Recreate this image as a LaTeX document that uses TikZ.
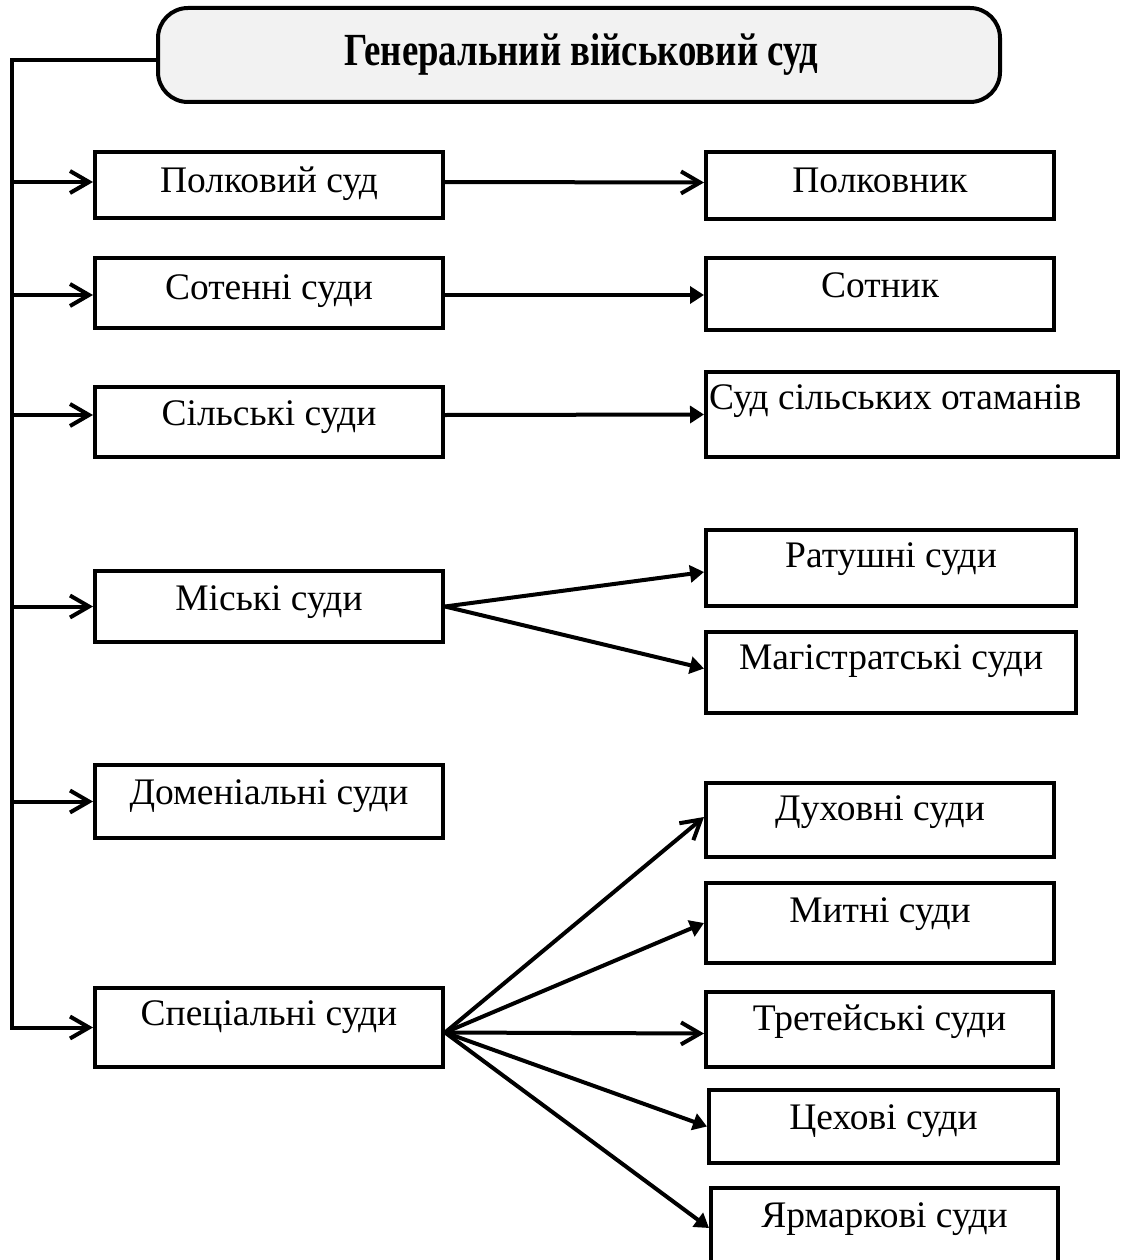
\documentclass[tikz,border=0pt]{standalone}
\usepackage{graphicx}
\usepackage{fontspec}
\setmainfont{Liberation Serif}
\usetikzlibrary{arrows.meta,calc}
\definecolor{genfill}{RGB}{242,242,242}
\tikzset{
  box/.style={draw=black,line width=4pt,rectangle,inner sep=0pt,fill=white},
  lbl/.style={inner sep=0pt,font=\fontsize{37.5}{42}\selectfont},
  conn/.style={draw=black,line width=4pt},
  openarr/.style={conn,-{Straight Barb[length=19pt,width=22pt,line width=4pt]}},
  fillarr/.style={conn,-{Triangle[length=14pt,width=17pt]}},
}
\newcommand\courtbox[7]{%
  \node[box,minimum width={(#4-#2)*1pt},minimum height={(#5-#3)*1pt}] (#1) at ({(#2+#4)/2},{(#3+#5)/2}) {};
  \node[lbl,anchor=base] (#1t) at ({(#2+#4)/2},{#6+12}) {#7};}
\begin{document}
\begin{tikzpicture}[x=1pt,y=-1pt]
\clip (0,0) rectangle (1121,1260);
\fill[white] (0,0) rectangle (1121,1260);
% top box
\node[draw=black,line width=4pt,rounded corners=30pt,fill=genfill,minimum width=842pt,minimum height=94pt,inner sep=0pt] (gen) at (579,55) {};
\node[inner sep=0pt,anchor=base,font=\fontsize{46}{50}\selectfont\bfseries] (gent) at (581,66) {\scalebox{0.8}[1]{Генеральний військовий суд}};
% left column
\courtbox{pol}{95}{152}{443}{218}{181}{Полковий суд}
\courtbox{sot}{95}{258}{443}{328}{287}{Сотенні суди}
\courtbox{sil}{95}{387}{443}{457}{413}{Сільські суди}
\courtbox{mis}{95}{571}{443}{642}{598}{Міські суди}
\courtbox{dom}{95}{765}{443}{838}{792}{Доменіальні суди}
\courtbox{spec}{95}{988}{443}{1067}{1013}{Спеціальні суди}
% right column
\courtbox{polk}{706}{152}{1054}{219}{181}{Полковник}
\courtbox{sotn}{706}{258}{1054}{330}{285}{Сотник}
\node[box,minimum width=412pt,minimum height=85pt] (sud) at (912,414.5) {};
\node[lbl,anchor=base west] (sudt) at (709,409) {Суд сільських отаманів};
\courtbox{rat}{706}{530}{1076}{606}{555}{Ратушні суди}
\courtbox{mag}{706}{632}{1076}{713}{657}{Магістратські суди}
\courtbox{duh}{706}{783}{1054}{857}{808}{Духовні суди}
\courtbox{myt}{706}{883}{1054}{963}{910}{Митні суди}
\courtbox{tret}{706}{992}{1053}{1067}{1018}{Третейські суди}
\courtbox{tsekh}{709}{1090}{1058}{1163}{1117}{Цехові суди}
\courtbox{yarm}{711}{1188}{1058}{1268}{1215}{Ярмаркові суди}
% bus
\coordinate (busTop) at (12,60);
\coordinate (bus) at (12,0);
\draw[openarr,line join=miter] (gen.west |- busTop) -- (busTop) -- (bus |- spec.west) -- (spec.west);
\draw[openarr] (bus |- {$(pol.west)+(0,-3)$}) -- ($(pol.west)+(0,-3)$);
\draw[openarr] (bus |- {$(sot.west)+(0,2)$}) -- ($(sot.west)+(0,2)$);
\draw[openarr] (bus |- {$(sil.west)+(0,-7)$}) -- ($(sil.west)+(0,-7)$);
\draw[openarr] (bus |- mis.west) -- (mis.west);
\draw[openarr] (bus |- dom.west) -- (dom.west);
% right connectors
\draw[openarr] ($(pol.east)+(0,-3)$) -- ($(polk.west)+(0,-3)$);
\draw[fillarr] ($(sot.east)+(0,2)$) -- ($(sotn.west)+(0,1)$);
\draw[fillarr] ($(sil.east)+(0,-7)$) -- (sud.west);
\draw[fillarr] (mis.east) -- ($(rat.west)+(0,4)$);
\draw[fillarr] (mis.east) -- ($(mag.west)+(0,-4)$);
\coordinate (sp) at ($(spec.east)+(0,5)$);
\draw[openarr] (sp) -- ($(duh.west)+(0,-3)$);
\draw[fillarr] (sp) -- (myt.west);
\draw[openarr] (sp) -- ($(tret.west)+(0,4)$);
\draw[fillarr] (sp) -- (tsekh.west);
\draw[fillarr] (sp) -- (yarm.west);
\end{tikzpicture}
\end{document}
